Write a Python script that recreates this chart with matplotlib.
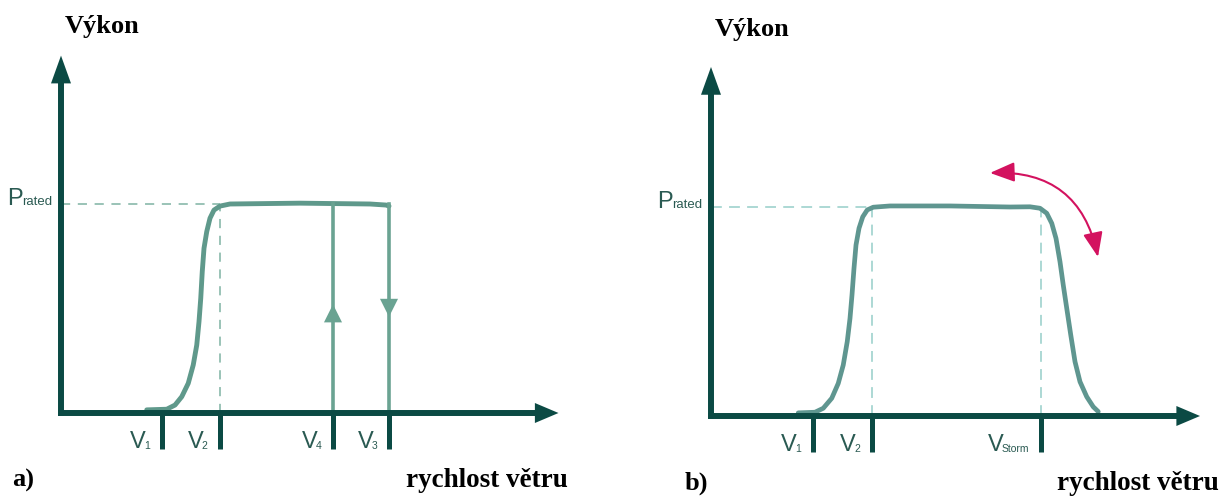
import matplotlib
matplotlib.use("Agg")
import matplotlib.pyplot as plt

# --- data (wind speed in arbitrary units, power as fraction of P_rated) ---
p_rated = 1.0

# a) cut-out with hysteresis
a_curve_x = [3.43, 4.23, 4.56, 4.83, 5.09, 5.29, 5.43, 5.52, 5.59, 5.65, 5.72,
             5.83, 5.96, 6.12, 6.36, 6.76, 9.56, 12.36, 13.0, 13.12]
a_curve_y = [0.015, 0.018, 0.038, 0.078, 0.142, 0.230, 0.325, 0.437, 0.549,
             0.676, 0.788, 0.868, 0.932, 0.971, 0.990, 1.0, 1.004, 1.0, 0.995, 0.99]
a_ticks = [4.04, 6.35, 10.88, 13.12]
a_subs = ["1", "2", "4", "3"]
a_v2, a_v4, a_v3 = 6.35, 10.88, 13.12
a_up_tip = 0.52
a_down_tip = 0.46
a_x_end, a_y_end = 19.9, 1.71

# b) storm control
b_curve_x = [3.49, 4.16, 4.49, 4.83, 5.09, 5.29, 5.45, 5.56, 5.64, 5.72, 5.80,
             5.92, 6.07, 6.25, 6.49, 7.16, 9.56, 11.96, 12.76, 13.16, 13.43,
             13.63, 13.80, 13.96, 14.09, 14.23, 14.39, 14.56, 14.76, 15.03,
             15.29, 15.49]
b_curve_y = [0.015, 0.018, 0.037, 0.085, 0.156, 0.244, 0.356, 0.467, 0.579,
             0.707, 0.818, 0.898, 0.953, 0.986, 0.999, 1.005, 1.005, 1.0,
             1.001, 0.994, 0.970, 0.922, 0.850, 0.738, 0.627, 0.515, 0.388,
             0.260, 0.164, 0.092, 0.044, 0.021]
b_ticks = [4.08, 6.44, 13.2]
b_subs = ["1", "2", "Storm"]
b_v2, b_storm = 6.44, 13.2
b_swing_start = (11.16, 1.163)
b_swing_end = (15.48, 0.761)
b_x_end, b_y_end = 19.56, 1.67

# --- style ---
W, H = 1221, 500
SX, SY = 25.0, 209.0          # pixels per unit
AXIS = "#0b4a44"
LABEL = "#2a5a52"
SANS = "Liberation Sans"
SERIF = "Liberation Serif"

fig = plt.figure(figsize=(W / 100, H / 100), dpi=100, facecolor="white")


def make_panel(ox, oy, px_left, px_right):
    ax = fig.add_axes([px_left / W, 0, (px_right - px_left) / W, 1])
    ax.set_xlim((px_left - ox) / SX, (px_right - ox) / SX)
    ax.set_ylim((oy - H) / SY, oy / SY)
    ax.patch.set_visible(False)
    return ax


def draw_axes(ax, x_end, y_end, ticks):
    for side in ["top", "right"]:
        ax.spines[side].set_visible(False)
    for side in ["left", "bottom"]:
        ax.spines[side].set_position(("data", 0))
        ax.spines[side].set_linewidth(4.3)
        ax.spines[side].set_color(AXIS)
        ax.spines[side].set_capstyle("butt")
    ax.spines["left"].set_bounds(-0.014, y_end - 0.06)
    ax.spines["bottom"].set_bounds(-0.12, x_end - 0.5)
    ax.set_yticks([])
    ax.set_xticks(ticks)
    ax.tick_params(axis="x", direction="out", length=26, width=3.6,
                   color=AXIS, labelbottom=False)
    head = dict(arrowstyle="-|>,head_length=20,head_width=7.2", mutation_scale=1,
                lw=0, color=AXIS, shrinkA=0, shrinkB=0)
    ax.annotate("", xy=(0, y_end), xytext=(0, 0), arrowprops=head)
    head = dict(head, arrowstyle="-|>,head_length=17,head_width=7.2")
    ax.annotate("", xy=(x_end, 0), xytext=(0, 0), arrowprops=head)


def v_labels(ax, ticks, subs):
    for x, sub in zip(ticks, subs):
        s = ax.annotate(sub, xy=(x, 0), xytext=(-12, -36), textcoords="offset pixels",
                        ha="right", va="baseline", fontsize=7.5, family=SANS, color=LABEL)
        ax.annotate("V", xy=(0, 0), xycoords=s, xytext=(2, -2),
                    textcoords="offset pixels", ha="right", va="bottom",
                    fontsize=17, family=SANS, color=LABEL)


def p_label(ax):
    s = ax.annotate("rated", xy=(0, p_rated), xytext=(-9, -1), textcoords="offset pixels",
                    ha="right", va="baseline", fontsize=9.5, family=SANS, color=LABEL)
    ax.annotate("P", xy=(0, 0), xycoords=s, xytext=(1, -2), textcoords="offset pixels",
                ha="right", va="bottom", fontsize=17, family=SANS, color=LABEL)


def texts(ax, tag, tag_x, right_x):
    ax.text(0.16, 1.82, "Výkon", family=SERIF, weight="bold", fontsize=19,
            va="baseline", color="black")
    ax.text(right_x, -0.355, "rychlost větru", family=SERIF, weight="bold",
            fontsize=19.5, ha="right", va="baseline", color="black", clip_on=False)
    ax.text(tag_x, -0.35, tag, family=SERIF, weight="bold", fontsize=19,
            va="baseline", color="black")


# ---------------- panel a ----------------
ax = make_panel(61, 413, 0, 610)
dash_a = dict(color="#7fb3a3", lw=1.1, dashes=(6, 5))
ax.plot([0, a_v2], [p_rated, p_rated], **dash_a)
ax.plot([a_v2, a_v2], [0, p_rated], **dash_a)
ax.plot(a_curve_x, a_curve_y, color="#5f998b", lw=3.5,
        solid_capstyle="round", solid_joinstyle="round")
ax.plot([a_v4, a_v4], [0, p_rated], color="#6aa392", lw=2.6)
ax.plot([a_v3, a_v3], [p_rated, 0], color="#6aa392", lw=2.6)
small_head = dict(arrowstyle="-|>,head_length=13,head_width=6.5", mutation_scale=1,
                  lw=0, color="#6aa392", shrinkA=0, shrinkB=0)
ax.annotate("", xy=(a_v4, a_up_tip), xytext=(a_v4, 0), arrowprops=small_head)
ax.annotate("", xy=(a_v3, a_down_tip), xytext=(a_v3, p_rated), arrowprops=small_head)
draw_axes(ax, a_x_end, a_y_end, a_ticks)
v_labels(ax, a_ticks, a_subs)
p_label(ax)
texts(ax, "a)", -1.96, 20.28)

# ---------------- panel b ----------------
ax = make_panel(711, 416, 610, 1221)
dash_b = dict(color="#a6d6d1", lw=1.3, dashes=(6, 4))
ax.plot([0, b_v2], [p_rated, p_rated], **dash_b)
ax.plot([b_v2, b_v2], [0, p_rated], **dash_b)
ax.plot([b_storm, b_storm], [0, p_rated], **dash_b)
ax.plot(b_curve_x, b_curve_y, color="#5f9690", lw=3.4,
        solid_capstyle="round", solid_joinstyle="round")
ax.annotate("", xy=b_swing_end, xytext=b_swing_start,
            arrowprops=dict(arrowstyle="<|-|>,head_length=1.5,head_width=0.6",
                            mutation_scale=10, lw=1.5, color="#d3125f",
                            shrinkA=0, shrinkB=0, connectionstyle="arc3,rad=-0.42"))
draw_axes(ax, b_x_end, b_y_end, b_ticks)
v_labels(ax, b_ticks, b_subs)
p_label(ax)
texts(ax, "b)", -1.04, 20.32)

fig.savefig("out.png", dpi=100, facecolor="white")
